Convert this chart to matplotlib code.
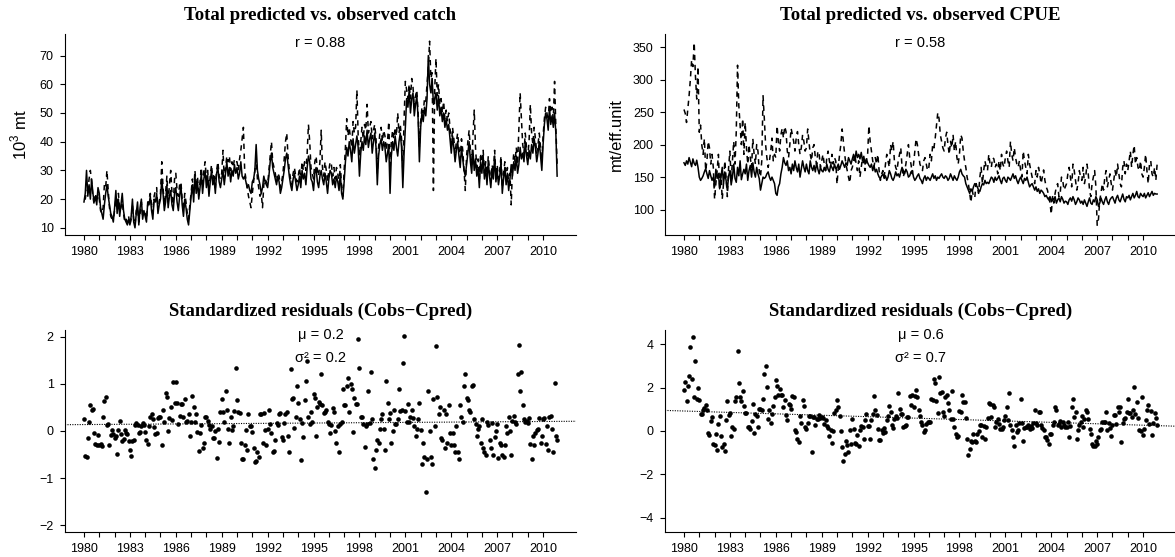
import numpy as np
import matplotlib.pyplot as plt

plt.rcParams['font.family'] = ['Liberation Sans', 'DejaVu Sans']
plt.rcParams['axes.linewidth'] = 0.8

# monthly series, Jan 1980 - Dec 2010 (one row per year)
catch_obs = [
    20, 20, 23, 23, 27, 30, 26, 21, 18, 22, 19, 22,
    20, 16, 15, 17, 25, 24, 30, 23, 17, 14, 13, 13,
    16, 20, 17, 22, 16, 17, 19, 15, 12, 13, 12, 14,
    11, 13, 18, 13, 11, 16, 17, 12, 15, 19, 14, 15,
    15, 13, 18, 20, 22, 18, 15, 21, 23, 24, 16, 19,
    22, 33, 24, 18, 22, 28, 19, 25, 30, 22, 18, 27,
    29, 23, 21, 25, 26, 20, 16, 22, 19, 15, 13, 18,
    22, 27, 22, 30, 24, 28, 21, 26, 31, 24, 30, 33,
    27, 30, 23, 28, 32, 27, 29, 24, 30, 33, 28, 27,
    29, 37, 27, 31, 35, 33, 35, 30, 33, 31, 34, 33,
    33, 30, 34, 37, 41, 45, 30, 27, 24, 21, 19, 17,
    22, 26, 30, 34, 27, 24, 21, 22, 17, 25, 27, 26,
    25, 30, 35, 40, 33, 31, 29, 26, 29, 28, 24, 26,
    29, 34, 40, 43, 35, 30, 27, 25, 29, 31, 28, 26,
    28, 31, 27, 33, 30, 33, 30, 36, 46, 40, 31, 29,
    27, 33, 35, 30, 28, 33, 44, 31, 28, 33, 30, 26,
    30, 33, 32, 28, 31, 27, 31, 29, 25, 32, 24, 21,
    30, 38, 48, 42, 45, 41, 38, 47, 43, 45, 58, 42,
    35, 40, 45, 41, 46, 44, 53, 43, 45, 47, 41, 44,
    46, 41, 29, 38, 43, 45, 40, 44, 42, 37, 40, 47,
    30, 40, 44, 41, 45, 42, 50, 43, 46, 41, 30, 48,
    61, 58, 55, 60, 55, 62, 59, 52, 56, 58, 50, 38,
    47, 52, 50, 55, 54, 60, 66, 75, 62, 64, 23, 58,
    69, 56, 60, 53, 55, 50, 54, 48, 51, 47, 50, 45,
    38, 45, 41, 36, 40, 43, 38, 34, 41, 37, 30, 23,
    35, 40, 44, 37, 32, 42, 51, 38, 31, 34, 27, 36,
    31, 37, 29, 33, 27, 35, 30, 26, 32, 29, 37, 28,
    32, 27, 30, 35, 24, 29, 33, 27, 31, 25, 29, 18,
    31, 36, 33, 38, 32, 45, 57, 48, 39, 36, 43, 38,
    35, 40, 53, 43, 39, 45, 41, 36, 39, 43, 38, 33,
    42, 48, 52, 50, 47, 55, 50, 52, 48, 61, 45, 32,
]

catch_pred = [
    19, 22, 30, 21, 25, 20, 27, 22, 19, 21, 18, 24,
    22, 17, 15, 13, 18, 22, 25, 21, 18, 15, 14, 12,
    17, 23, 15, 20, 14, 18, 22, 16, 13, 12, 11, 13,
    11, 14, 20, 12, 10, 15, 19, 11, 17, 20, 13, 16,
    14, 12, 19, 18, 21, 16, 13, 20, 19, 22, 15, 18,
    20, 27, 22, 16, 19, 25, 17, 21, 23, 18, 16, 22,
    24, 19, 16, 21, 25, 18, 14, 20, 17, 13, 11, 16,
    21, 25, 19, 28, 22, 26, 20, 24, 29, 22, 27, 30,
    24, 28, 21, 26, 30, 25, 27, 22, 29, 31, 26, 24,
    27, 30, 25, 29, 33, 28, 31, 26, 30, 28, 32, 29,
    31, 27, 29, 33, 28, 27, 28, 26, 24, 25, 23, 22,
    26, 27, 30, 39, 30, 27, 25, 22, 24, 28, 26, 25,
    24, 28, 33, 36, 31, 29, 27, 25, 28, 26, 22, 24,
    27, 30, 34, 36, 32, 28, 25, 23, 27, 29, 26, 23,
    25, 28, 24, 30, 27, 29, 25, 31, 35, 33, 27, 26,
    23, 29, 31, 26, 24, 28, 30, 27, 25, 29, 26, 22,
    27, 30, 29, 25, 27, 24, 28, 26, 23, 29, 22, 20,
    26, 33, 38, 35, 40, 37, 33, 41, 36, 39, 42, 38,
    28, 36, 40, 37, 42, 39, 44, 38, 41, 43, 36, 40,
    43, 38, 25, 35, 39, 41, 37, 40, 38, 33, 36, 39,
    22, 35, 40, 37, 42, 38, 35, 40, 43, 38, 24, 36,
    45, 55, 52, 58, 50, 55, 57, 49, 53, 56, 48, 33,
    45, 50, 47, 52, 49, 55, 70, 60, 57, 62, 53, 55,
    57, 51, 56, 49, 52, 47, 50, 45, 48, 44, 46, 41,
    36, 42, 38, 33, 37, 40, 35, 31, 38, 34, 30, 28,
    32, 36, 40, 33, 29, 37, 30, 34, 28, 31, 24, 33,
    29, 35, 27, 31, 25, 33, 28, 24, 30, 27, 35, 26,
    30, 25, 28, 33, 22, 27, 31, 25, 29, 23, 27, 32,
    28, 33, 30, 35, 29, 32, 38, 34, 36, 33, 40, 35,
    32, 37, 34, 39, 36, 41, 38, 33, 36, 40, 35, 30,
    39, 46, 50, 48, 44, 52, 46, 49, 45, 50, 43, 28,
]

cpue_obs = [
    254, 248, 234, 255, 275, 300, 330, 320, 357, 305, 270, 320,
    219, 230, 199, 185, 209, 160, 175, 205, 195, 170, 185, 165,
    116, 140, 160, 185, 130, 155, 116, 140, 175, 150, 120, 165,
    190, 145, 175, 205, 170, 220, 322, 260, 230, 200, 240, 185,
    234, 195, 170, 200, 180, 165, 209, 185, 170, 200, 190, 160,
    150, 175, 275, 240, 200, 180, 165, 175, 190, 210, 175, 185,
    180, 229, 205, 190, 215, 225, 210, 228, 220, 190, 180, 200,
    225, 215, 205, 190, 210, 220, 200, 185, 195, 215, 205, 190,
    195, 224, 205, 185, 175, 195, 200, 180, 170, 190, 185, 165,
    175, 185, 170, 160, 180, 190, 175, 165, 185, 170, 180, 175,
    139, 165, 185, 200, 224, 205, 185, 170, 160, 150, 141, 160,
    165, 175, 185, 170, 160, 175, 150, 165, 180, 170, 160, 175,
    185, 229, 205, 190, 175, 165, 180, 170, 185, 160, 145, 155,
    160, 150, 170, 185, 175, 165, 200, 190, 205, 175, 165, 160,
    175, 185, 195, 165, 150, 160, 170, 185, 200, 180, 170, 155,
    170, 190, 209, 200, 185, 170, 165, 160, 175, 180, 170, 160,
    165, 185, 175, 200, 195, 210, 230, 249, 240, 215, 205, 195,
    190, 210, 219, 200, 185, 205, 195, 215, 190, 205, 180, 170,
    185, 215, 210, 190, 175, 165, 150, 140, 125, 111, 130, 120,
    118, 140, 135, 125, 150, 165, 140, 160, 175, 165, 160, 185,
    170, 165, 180, 178, 165, 170, 155, 175, 160, 185, 170, 165,
    180, 190, 175, 165, 205, 185, 175, 195, 180, 170, 165, 175,
    160, 150, 190, 175, 165, 155, 185, 170, 160, 150, 145, 140,
    160, 150, 165, 155, 140, 150, 161, 145, 135, 130, 120, 110,
    93, 120, 110, 125, 135, 140, 120, 125, 150, 145, 130, 135,
    140, 155, 165, 150, 135, 170, 160, 145, 130, 140, 160, 150,
    145, 165, 140, 150, 170, 155, 130, 120, 140, 150, 160, 135,
    76, 85, 115, 125, 140, 130, 150, 160, 135, 145, 155, 140,
    130, 145, 160, 150, 170, 155, 140, 135, 165, 175, 155, 170,
    160, 175, 190, 165, 185, 199, 170, 180, 165, 160, 175, 155,
    150, 165, 185, 160, 140, 170, 175, 155, 150, 165, 145, 170,
]

cpue_pred = [
    172, 168, 175, 170, 180, 173, 166, 178, 171, 168, 176, 165,
    150, 145, 148, 152, 158, 163, 155, 148, 160, 152, 145, 150,
    135, 162, 148, 155, 132, 150, 165, 140, 158, 145, 130, 152,
    160, 138, 150, 170, 148, 142, 165, 152, 175, 146, 155, 162,
    155, 170, 145, 160, 168, 150, 172, 158, 150, 165, 155, 148,
    130, 140, 150, 148, 150, 155, 158, 150, 145, 150, 145, 140,
    125, 122, 135, 140, 155, 165, 180, 172, 168, 175, 160, 165,
    155, 170, 160, 175, 165, 158, 170, 150, 162, 175, 165, 158,
    170, 160, 155, 175, 165, 160, 168, 158, 172, 162, 155, 165,
    160, 158, 165, 160, 170, 162, 158, 168, 165, 160, 170, 163,
    165, 170, 162, 168, 175, 170, 165, 172, 168, 180, 175, 170,
    178, 185, 175, 190, 180, 185, 178, 188, 175, 182, 170, 178,
    172, 168, 165, 170, 160, 168, 158, 162, 155, 150, 148, 152,
    155, 148, 152, 145, 150, 160, 155, 148, 145, 150, 158, 152,
    155, 150, 158, 165, 160, 155, 162, 158, 150, 152, 158, 160,
    150, 145, 148, 152, 155, 148, 145, 140, 148, 152, 145, 150,
    148, 145, 150, 155, 148, 152, 145, 150, 148, 152, 155, 150,
    148, 152, 150, 145, 148, 155, 150, 145, 152, 148, 145, 150,
    158, 162, 155, 152, 150, 140, 135, 130, 125, 132, 128, 135,
    140, 138, 135, 130, 128, 135, 140, 138, 145, 140, 142, 140,
    145, 150, 148, 142, 150, 145, 148, 152, 145, 140, 148, 150,
    145, 142, 150, 148, 145, 150, 155, 148, 152, 145, 140, 146,
    150, 145, 140, 148, 145, 150, 142, 135, 138, 140, 135, 130,
    135, 128, 132, 125, 130, 128, 125, 120, 122, 118, 115, 120,
    112, 118, 115, 120, 110, 115, 118, 112, 120, 116, 110, 113,
    112, 108, 115, 118, 113, 120, 115, 108, 112, 118, 115, 110,
    113, 108, 115, 110, 105, 112, 118, 110, 108, 115, 112, 120,
    115, 105, 110, 118, 112, 108, 115, 120, 112, 108, 115, 118,
    120, 115, 110, 118, 122, 115, 112, 118, 124, 116, 112, 120,
    118, 122, 115, 120, 125, 118, 122, 128, 120, 118, 125, 122,
    120, 125, 118, 122, 126, 120, 124, 128, 122, 125, 124, 124,
]

# standardized residuals (Cobs - Cpred)
res_catch = [
    0.25, -0.52, -0.55, -0.15, 0.19, 0.56, 0.44, 0.47, -0.04, -0.27, -0.29, -0.08,
    -0.29, -0.27, -0.31, 0.30, 0.63, 0.73, 0.13, 0.14, -0.29, -0.08, 0.03, -0.07,
    -0.14, -0.10, -0.49, 0.03, 0.21, -0.06, -0.21, -0.16, 0.03, -0.04, -0.07, -0.21,
    -0.41, -0.54, -0.21, -0.19, 0.13, 0.16, 0.12, -0.05, -0.03, 0.10, 0.18, 0.13,
    -0.03, -0.20, -0.27, 0.10, 0.30, 0.35, 0.26, 0.08, -0.06, -0.05, 0.28, 0.30,
    0.29, -0.30, 0.44, 0.20, 0.80, 0.73, 0.00, 0.28, 0.50, 0.24, 1.04, 0.60,
    1.04, 0.60, 0.15, 0.32, 0.57, 0.58, 0.30, 0.68, 0.20, 0.21, 0.36, -0.10,
    0.20, 0.74, 0.50, 0.20, 0.36, -0.02, -0.42, -0.04, 0.12, -0.35, -0.25, 0.30,
    0.30, 0.21, 0.12, 0.05, 0.10, -0.14, -0.15, 0.00, -0.58, 0.05, -0.23, 0.40,
    0.67, 0.40, 0.20, 0.84, 0.45, 0.05, -0.26, 0.30, 0.02, 0.10, 0.42, 1.33,
    0.66, 0.40, 0.38, -0.25, -0.60, -0.60, -0.30, 0.02, -0.40, 0.37, 0.10, 0.10,
    -0.02, -0.35, -0.65, -0.64, -0.45, -0.55, 0.36, 0.35, -0.25, 0.38, 0.03, -0.30,
    0.04, 0.45, 0.14, -0.05, -0.45, -0.42, -0.20, 0.18, 0.12, 0.35, 0.38, -0.12,
    -0.20, 0.16, 0.37, 0.40, -0.10, -0.45, 1.32, 0.67, 0.69, 0.07, 0.30, 0.96,
    0.59, 0.26, -0.61, 0.16, -0.13, 0.66, 1.05, 1.48, 0.30, 0.15, 0.40, 0.20,
    0.78, 0.70, -0.10, 0.50, 0.62, 0.58, 1.21, 0.55, 0.38, 0.40, 0.45, 0.20,
    0.15, -0.05, 0.12, 0.48, 0.40, 0.00, -0.25, 0.10, -0.44, 0.15, 0.20, 0.90,
    0.56, 0.55, 0.95, 1.12, 0.40, 1.00, 0.89, -0.03, 0.70, 0.58, 0.58, 1.95,
    1.34, 0.30, 0.30, 0.15, -0.33, 0.10, 0.14, 0.85, 0.18, 1.25, 0.26, -0.60,
    -0.78, -0.40, -0.20, -0.25, 0.05, 0.25, 0.36, 0.05, -0.40, 1.05, 0.60, 0.25,
    0.38, -0.25, 0.00, 0.45, 0.14, 0.14, 0.25, 0.90, 0.42, 0.45, 1.45, 2.02,
    0.42, 0.20, 0.58, 0.20, 0.30, 0.45, 0.28, 0.10, -0.10, 0.05, 0.25, 0.60,
    0.03, -0.70, -0.25, -0.56, -1.29, -0.60, 0.85, 0.00, -0.55, -0.70, 0.68, 0.10,
    1.80, 0.72, 0.35, 0.50, -0.15, -0.20, 0.45, -0.35, 0.35, -0.25, 0.55, -0.05,
    -0.30, -0.05, -0.30, -0.45, 0.10, -0.45, -0.60, 0.55, 0.30, 0.20, 0.95, 1.20,
    0.70, 0.65, 0.45, 0.40, 0.95, 0.98, 0.25, 0.15, -0.10, 0.05, 0.10, -0.25,
    0.25, -0.35, -0.45, -0.50, 0.20, 0.12, -0.20, -0.35, 0.18, -0.50, -0.12, 0.00,
    0.15, -0.58, -0.25, -0.30, -0.50, -0.55, -0.30, 0.10, -0.05, 0.30, 0.00, -0.50,
    0.22, 0.32, 0.20, 0.14, 1.20, 1.82, 0.85, 1.25, 0.55, 0.25, 0.20, 0.22,
    0.16, 0.28, -0.28, -0.60, -0.10, -0.30, -0.05, 0.02, 0.05, 0.28, -0.25, -0.10,
    0.25, 0.28, -0.28, 0.10, -0.40, 0.30, 0.32, 0.05, -0.45, 1.02, -0.10, -0.20,
]

res_cpue = [
    1.90, 2.25, 1.37, 2.10, 2.52, 3.90, 2.40, 4.33, 1.57, 3.25, 1.50, 2.00,
    1.45, 0.80, 0.80, 0.95, 1.07, 1.18, 0.95, -0.10, -0.20, 0.46, 0.65, -0.58,
    -0.66, -0.15, -0.86, 0.34, 0.70, -0.25, -0.74, -0.58, -0.94, 0.50, 1.40, 0.75,
    0.85, -0.25, 0.18, 0.08, 1.38, 1.57, 3.68, 2.20, 1.57, 1.37, 1.83, 1.14,
    0.83, 0.83, 0.18, 0.18, 0.10, 0.45, 1.26, -0.10, 0.80, 0.68, 0.18, 1.03,
    1.03, 0.98, 1.50, 2.65, 3.00, 2.03, 0.57, 0.95, 0.38, 0.80, 1.14, 1.57,
    2.37, 2.06, 1.65, 1.95, 1.65, 1.65, 1.10, 1.42, 0.72, 0.52, 1.26, 1.18,
    1.03, 1.60, 1.57, 0.03, -0.05, -0.35, -0.50, 0.70, 0.37, 1.42, 1.14, 0.18,
    0.10, 0.37, 0.70, 0.70, -0.97, 0.65, 0.65, 0.26, 0.57, 0.55, 0.72, 0.60,
    0.65, 0.62, 0.34, 0.50, 0.22, 0.14, -0.25, 0.06, -0.55, 0.00, 0.83, 0.98,
    1.45, 1.10, 0.70, 0.00, -0.74, -1.38, -1.05, -0.46, -0.66, -0.97, 0.03, -0.60,
    0.54, 0.10, -0.54, -0.62, -0.20, -0.70, 0.06, 0.22, 0.20, -0.35, 0.52, 0.80,
    0.22, 0.22, -0.35, 0.52, 0.80, 1.60, 0.95, 0.72, 0.08, -0.43, -0.43, 0.03,
    -0.08, 0.15, -0.05, 0.53, 0.68, 1.15, 0.88, 0.26, 0.15, 0.57, 0.70, 0.60,
    1.75, 1.03, 0.77, 0.80, 0.18, 0.22, 0.26, 0.65, 0.65, 1.60, 1.20, 1.65,
    1.10, 1.60, 1.88, 1.57, 0.95, 0.69, 0.42, 0.30, -0.05, 0.03, 0.34, 0.42,
    0.42, 0.42, 1.50, 1.45, 2.40, 2.20, 1.40, 0.83, 2.50, 1.77, 1.80, 0.88,
    0.68, 1.57, 1.65, 1.30, 0.95, 0.57, 1.83, 0.57, 0.18, -0.12, -0.28, -0.25,
    0.91, 0.88, 1.65, 1.34, 1.34, 0.60, -0.35, -1.12, -0.82, -0.48, -0.51, -0.12,
    -0.48, -0.51, -0.12, 0.00, 0.30, 0.30, -0.28, 0.23, -0.35, 0.18, 0.62, 1.30,
    1.26, 0.65, 1.18, 1.10, 0.18, 0.42, 0.54, 0.34, 0.10, 0.10, 0.18, 0.49,
    0.69, 1.10, 0.52, 1.77, 0.26, 0.06, -0.28, -0.70, 0.26, -0.05, 0.03, 0.38,
    1.50, 0.37, -0.46, 0.15, 0.18, 0.18, 0.30, 0.10, 0.25, 0.15, 0.36, 0.95,
    0.37, 0.26, 0.88, 0.88, 0.30, 0.15, 0.06, -0.28, -0.28, -0.40, -0.58, -0.12,
    -0.12, 0.30, 0.42, 1.10, 0.95, 0.26, 0.34, 0.46, 0.20, 0.40, 0.30, 0.20,
    0.18, 0.42, -0.28, 0.23, 1.10, 1.50, 0.65, 0.88, -0.35, 0.03, 0.26, 0.40,
    0.68, 0.18, 0.57, 0.95, 0.88, 0.57, 0.10, -0.12, -0.58, -0.70, -0.70, -0.45,
    -0.58, -0.28, 0.03, 0.10, 0.42, 0.42, 0.42, 0.88, 0.06, 0.37, 0.15, -0.25,
    0.26, 0.72, 0.72, 0.34, 1.10, 0.88, 1.10, -0.50, 0.37, 0.57, 0.60, 0.90,
    1.50, 0.83, 0.83, 0.65, 0.95, 2.05, 0.80, 1.32, 0.62, 0.06, -0.02, 1.55,
    -0.17, 0.10, 0.52, 0.95, 1.18, 0.34, 0.92, -0.20, 0.37, 0.83, 0.60, 0.30,
]

panel_titles = ['Total predicted vs. observed catch', 'Total predicted vs. observed CPUE',
                'Standardized residuals (Cobs\u2212Cpred)', 'Standardized residuals (Cobs\u2212Cpred)']
r_labels = ['r = 0.88', 'r = 0.58']
mu_labels = ['\u03bc = 0.2', '\u03bc = 0.6']
var_labels = ['\u03c3\u00b2 = 0.2', '\u03c3\u00b2 = 0.7']
ylabels = ['10$^3$ mt', 'mt/eff.unit']

year_ticks = np.arange(1980, 2011)
year_labels = [str(y) if (y - 1980) % 3 == 0 else '' for y in year_ticks]

plt.rcParams['mathtext.fontset'] = 'custom'
plt.rcParams['mathtext.rm'] = 'Liberation Sans'


def months(series):
    return 1980 + np.arange(len(series)) / 12.0


W, H = 1175, 557
fig = plt.figure(figsize=(W / 100, H / 100), dpi=100)

lefts = [65, 665]
ax_w = 511
top_box = (34, 235)
bot_box = (330, 532)
ylab_off = [36, 41]


def make_axes(left, box):
    return fig.add_axes([left / W, 1 - box[1] / H, ax_w / W, (box[1] - box[0]) / H])


def style(ax, title):
    for s in ['top', 'right']:
        ax.spines[s].set_visible(False)
    ax.set_xlim(1978.76, 2012.15)
    ax.set_xticks(year_ticks)
    ax.set_xticklabels(year_labels)
    ax.tick_params(direction='out', length=3.6, width=0.8, labelsize=9, pad=4.5)
    ax.annotate(title, xy=(0.5, 1), xycoords='axes fraction', xytext=(0, 13.5),
                textcoords='offset points', ha='center', va='center',
                family='Liberation Serif', fontweight='bold', fontsize=13.5)


tops = [(catch_obs, catch_pred, (7.5, 77.5), np.arange(10, 71, 10)),
        (cpue_obs, cpue_pred, (61, 370), np.arange(100, 351, 50))]

for i, (obs, pred, ylim, yt) in enumerate(tops):
    ax = make_axes(lefts[i], top_box)
    ax.plot(months(obs), obs, color='black', lw=1.1, ls=(0, (3.5, 3)))
    ax.plot(months(pred), pred, color='black', lw=1.1)
    ax.set_ylim(*ylim)
    ax.set_yticks(yt)
    style(ax, panel_titles[i])
    ax.set_ylabel(ylabels[i], fontsize=12)
    ax.yaxis.set_label_coords(-ylab_off[i] / ax_w, 0.5)
    ax.annotate(r_labels[i], xy=(0.5, 1), xycoords='axes fraction', xytext=(0, -6.5),
                textcoords='offset points', ha='center', va='center', fontsize=10.5)

bottoms = [(res_catch, 2.14, np.arange(-2, 3, 1)),
           (res_cpue, 4.67, np.arange(-4, 5, 2))]

for i, (res, lim, yt) in enumerate(bottoms):
    ax = make_axes(lefts[i], bot_box)
    tr = months(res)
    ax.plot(tr, res, 'o', color='black', ms=3.3, mec='none')
    # linear trend of the residuals over time
    slope, icpt = np.polyfit(tr, res, 1)
    xs = np.array([1978.76, 2012.15])
    ax.plot(xs, icpt + slope * xs, color='black', lw=0.8, ls=(0, (1, 1.2)))
    ax.set_ylim(-lim, lim)
    ax.set_yticks(yt)
    style(ax, panel_titles[2 + i])
    ax.annotate(mu_labels[i], xy=(0.5, 1), xycoords='axes fraction', xytext=(0, -3.6),
                textcoords='offset points', ha='center', va='center', fontsize=10.5)
    ax.annotate(var_labels[i], xy=(0.5, 1), xycoords='axes fraction', xytext=(0, -20),
                textcoords='offset points', ha='center', va='center', fontsize=10.5)

fig.savefig('out.png', dpi=100)
